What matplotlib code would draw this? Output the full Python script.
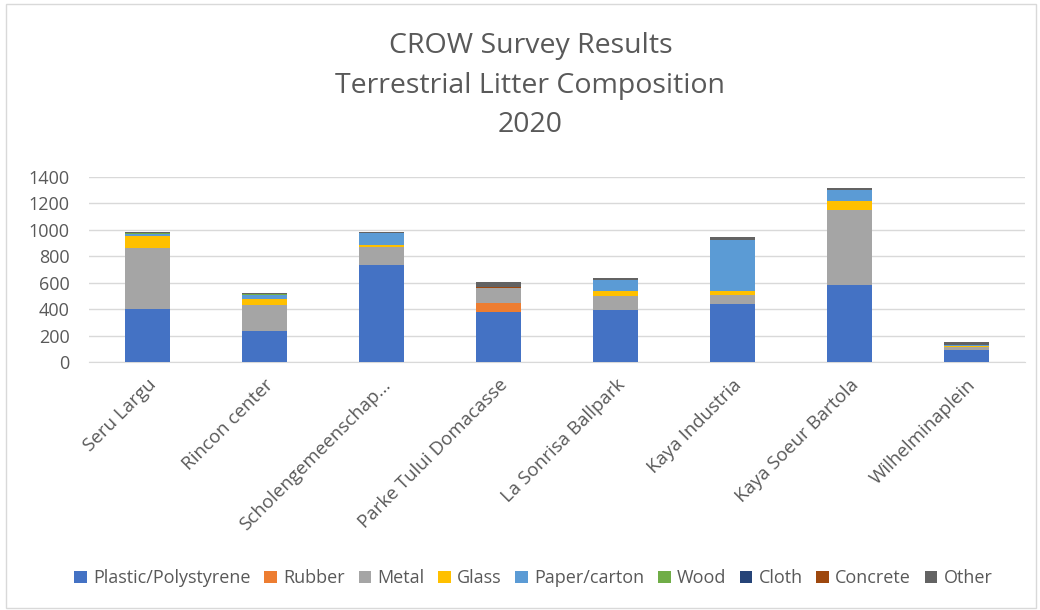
import numpy as np
import matplotlib.pyplot as plt
from matplotlib.patches import Rectangle

plt.rcParams['font.family'] = ['Open Sans', 'DejaVu Sans']

sites = ['Seru Largu', 'Rincon center', 'Scholengemeenschap...', 'Parke Tului Domacasse',
         'La Sonrisa Ballpark', 'Kaya Industria', 'Kaya Soeur Bartola', 'Wilhelminaplein']

plastic  = [400, 232, 734, 375, 397, 441, 581, 89]
rubber   = [0, 3, 0, 73, 0, 0, 0, 0]
metal    = [459, 193, 140, 110, 100, 66, 568, 25]
glass    = [91, 46, 13, 0, 38, 31, 69, 10]
paper    = [18, 36, 86, 0, 89, 382, 84, 5]
wood     = [5, 8, 0, 0, 0, 0, 0, 0]
cloth    = [0, 0, 0, 0, 0, 0, 0, 0]
concrete = [0, 0, 0, 13, 0, 5, 0, 0]
other    = [8, 7, 8, 33, 8, 23, 18, 20]

series = [('Plastic/Polystyrene', plastic, '#4472c4'),
          ('Rubber', rubber, '#ed7d31'),
          ('Metal', metal, '#a5a5a5'),
          ('Glass', glass, '#ffc000'),
          ('Paper/carton', paper, '#5b9bd5'),
          ('Wood', wood, '#70ad47'),
          ('Cloth', cloth, '#264478'),
          ('Concrete', concrete, '#9e480e'),
          ('Other', other, '#636363')]

fig = plt.figure(figsize=(10.4, 6.1), dpi=100)
fig.patches.append(Rectangle((0.006, 0.003), 0.99, 0.99, transform=fig.transFigure,
                             fill=False, edgecolor='#d9d9d9', linewidth=1))
ax = fig.add_axes([0.0856, 0.4066, 0.9, 0.3032])

x = np.arange(len(sites))
bottom = np.zeros(len(sites))
for name, vals, col in series:
    ax.bar(x, vals, 0.39, bottom=bottom, color=col, label=name, zorder=3)
    bottom += np.array(vals)

ax.set_xlim(-0.5, len(sites) - 0.5)
ax.set_ylim(0, 1400)
ax.set_yticks(range(0, 1401, 200))
ax.grid(axis='y', color='#d9d9d9', linewidth=1, zorder=0)
for s in ['top', 'right', 'left']:
    ax.spines[s].set_visible(False)
ax.spines['bottom'].set_color('#d9d9d9')
ax.tick_params(length=0, labelsize=13, colors='#595959')
ax.tick_params(axis='y', pad=14)
ax.set_xticks(x)
ax.set_xticklabels(sites, rotation=45, ha='right', rotation_mode='anchor', fontsize=13.5)
ax.tick_params(axis='x', pad=10)

fig.text(0.51, 0.947, 'CROW Survey Results\nTerrestrial Litter Composition\n2020',
         ha='center', va='top', fontsize=20.5, color='#595959', linespacing=1.55)

handles, labels = ax.get_legend_handles_labels()
fig.legend(handles, labels, loc='center', bbox_to_anchor=(0.513, 0.052), ncol=9,
           frameon=False, fontsize=13, handlelength=0.7, handleheight=0.7,
           handletextpad=0.35, columnspacing=0.75, labelcolor='#595959')

fig.savefig('out.png', dpi=100)
